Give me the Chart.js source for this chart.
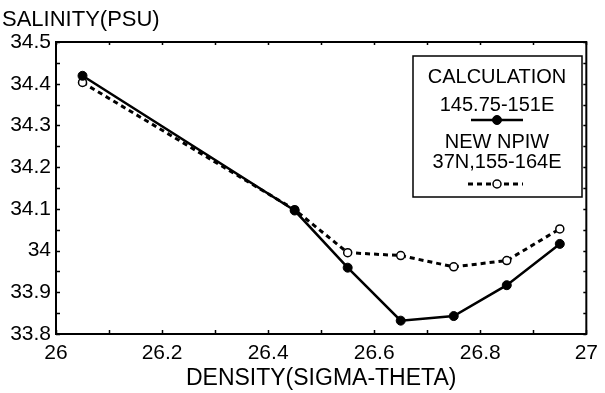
<!DOCTYPE html>
<html>
<head>
<meta charset="utf-8">
<script src="https://cdn.jsdelivr.net/npm/chart.js@4"></script>
<style>
  html, body { margin: 0; padding: 0; background: #fff; }
  canvas { display: block; }
</style>
</head>
<body>
<canvas id="salinityChart" width="605" height="393"></canvas>
<script>
// ======================
// DATA
// ======================
const densities = [26.05, 26.45, 26.55, 26.65, 26.75, 26.85, 26.95];
const calcSalinity = [34.419, 34.096, 33.959, 33.832, 33.843, 33.917, 34.016];
const npiwSalinity = [34.403, 34.098, 33.995, 33.988, 33.961, 33.976, 34.052];

const xTickValues = [26, 26.2, 26.4, 26.6, 26.8, 27];
const yTickValues = [33.8, 33.9, 34, 34.1, 34.2, 34.3, 34.4, 34.5];

const calcLabel = ["CALCULATION", "145.75-151E"];
const npiwLabel = ["NEW NPIW", "37N,155-164E"];
const yTitle = "SALINITY(PSU)";
const xTitle = "DENSITY(SIGMA-THETA)";

const FONT = "'Liberation Sans', Arial, Helvetica, sans-serif";

function toPoints(xs, ys) {
  return xs.map((x, i) => ({ x: x, y: ys[i] }));
}

// ======================
// FRAME + INWARD TICKS
// ======================
const framePlugin = {
  id: "frame",
  afterDatasetsDraw(chart) {
    const { ctx, chartArea: a, scales } = chart;
    ctx.save();
    ctx.strokeStyle = "#000";

    // x ticks every 0.1, y ticks every 0.05
    ctx.lineWidth = 1.5;
    ctx.beginPath();
    for (let i = 0; i <= 10; i++) {
      const px = Math.round(scales.x.getPixelForValue(26 + i * 0.1)) + 0.5;
      ctx.moveTo(px, a.bottom);
      ctx.lineTo(px, a.bottom - 4);
      ctx.moveTo(px, a.top);
      ctx.lineTo(px, a.top + 3);
    }
    for (let i = 0; i <= 14; i++) {
      const py = Math.round(scales.y.getPixelForValue(33.8 + i * 0.05)) + 0.5;
      ctx.moveTo(a.left, py);
      ctx.lineTo(a.left + 4, py);
      ctx.moveTo(a.right, py);
      ctx.lineTo(a.right - 3, py);
    }
    ctx.stroke();

    ctx.lineWidth = 2;
    ctx.strokeRect(a.left, a.top, a.right - a.left, a.bottom - a.top);
    ctx.restore();
  },
};

// ======================
// Y TITLE + LEGEND BOX
// ======================
const annotPlugin = {
  id: "annot",
  afterDraw(chart) {
    const ctx = chart.ctx;
    const ds = chart.data.datasets;
    ctx.save();
    ctx.fillStyle = "#000";
    ctx.textBaseline = "middle";

    ctx.font = "22px " + FONT;
    ctx.textAlign = "left";
    ctx.fillText(yTitle, 2, 20);

    // legend box
    ctx.fillStyle = "#fff";
    ctx.fillRect(413, 56, 169, 141);
    ctx.strokeStyle = "#000";
    ctx.lineWidth = 1.5;
    ctx.strokeRect(413, 56, 169, 141);

    ctx.fillStyle = "#000";
    ctx.textAlign = "center";
    ctx.font = "20px " + FONT;
    ctx.fillText(calcLabel[0], 497, 77);
    ctx.fillText(calcLabel[1], 497, 105);
    ctx.fillText(npiwLabel[0], 497, 142);
    ctx.fillText(npiwLabel[1], 497, 162);

    const samples = [
      { d: ds[0], y: 120, x0: 471, x1: 523 },
      { d: ds[1], y: 184, x0: 468, x1: 523 },
    ];
    samples.forEach((s) => {
      ctx.beginPath();
      ctx.setLineDash(s.d.borderDash || []);
      ctx.lineWidth = s.d.borderWidth;
      ctx.moveTo(s.x0, s.y);
      ctx.lineTo(s.x1, s.y);
      ctx.stroke();
      ctx.setLineDash([]);
      ctx.beginPath();
      ctx.arc(497, s.y, s.d.pointRadius, 0, Math.PI * 2);
      ctx.fillStyle = s.d.pointBackgroundColor;
      ctx.fill();
      ctx.lineWidth = s.d.pointBorderWidth;
      ctx.stroke();
    });
    ctx.restore();
  },
};

// ======================
// CHART
// ======================
new Chart(document.getElementById("salinityChart").getContext("2d"), {
  type: "line",
  data: {
    datasets: [
      {
        label: "CALCULATION 145.75-151E",
        data: toPoints(densities, calcSalinity),
        borderColor: "#000",
        borderWidth: 2.5,
        pointRadius: 4.5,
        pointBackgroundColor: "#000",
        pointBorderColor: "#000",
        pointBorderWidth: 1,
        tension: 0,
      },
      {
        label: "NEW NPIW 37N,155-164E",
        data: toPoints(densities, npiwSalinity),
        borderColor: "#000",
        borderWidth: 3,
        borderDash: [5, 4],
        pointRadius: 4,
        pointBackgroundColor: "#fff",
        pointBorderColor: "#000",
        pointBorderWidth: 1.5,
        tension: 0,
      },
    ],
  },
  options: {
    responsive: false,
    animation: false,
    layout: { padding: { top: 42, right: 13, left: 0, bottom: 0 } },
    plugins: { legend: { display: false }, tooltip: { enabled: false } },
    scales: {
      x: {
        type: "linear",
        min: 26,
        max: 27,
        grid: { display: false, drawTicks: false },
        border: { display: false },
        afterBuildTicks: (scale) => {
          scale.ticks = xTickValues.map((v) => ({ value: v }));
        },
        afterFit: (scale) => {
          scale.height = 59;
        },
        ticks: {
          color: "#000",
          padding: 7,
          maxRotation: 0,
          font: { family: FONT, size: 21 },
          callback: (v) => String(+v.toFixed(2)),
        },
        title: {
          display: true,
          text: xTitle,
          color: "#000",
          font: { family: FONT, size: 23 },
          padding: { top: 0, bottom: 1 },
        },
      },
      y: {
        min: 33.8,
        max: 34.5,
        grid: { display: false, drawTicks: false },
        border: { display: false },
        afterBuildTicks: (scale) => {
          scale.ticks = yTickValues.map((v) => ({ value: v }));
        },
        afterFit: (scale) => {
          scale.width = 56;
        },
        ticks: {
          color: "#000",
          padding: 5,
          font: { family: FONT, size: 21 },
          callback: (v) => String(+v.toFixed(2)),
        },
      },
    },
  },
  plugins: [framePlugin, annotPlugin],
});
</script>
</body>
</html>
